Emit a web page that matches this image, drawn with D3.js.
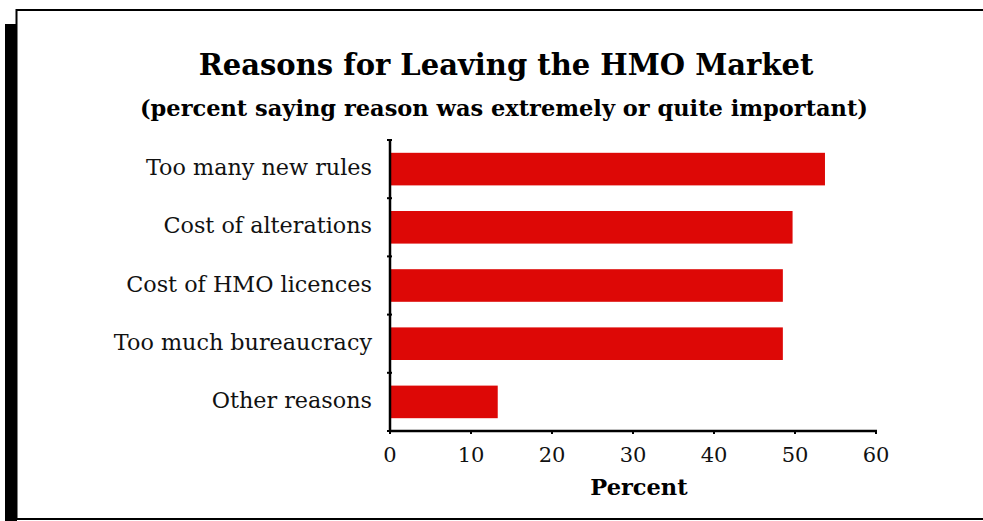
<!DOCTYPE html>
<html><head><meta charset="utf-8">
<script src="https://cdn.jsdelivr.net/npm/d3@7"></script>
<style>
body{margin:0;background:#fff;}
svg{display:block;}
</style></head>
<body>
<svg id="c" width="983" height="521"></svg>
<script>
const categories = ["Too many new rules","Cost of alterations","Cost of HMO licences","Too much bureaucracy","Other reasons"];
const values = [53.7, 49.7, 48.5, 48.5, 13.3];
const xTicks = [0,10,20,30,40,50,60];
const titleText = "Reasons for Leaving the HMO Market";
const subtitleText = "(percent saying reason was extremely or quite important)";
const xLabel = "Percent";

const svg = d3.select("#c");
const font = "'DejaVu Serif', serif";

// frame and shadow
svg.append("rect").attr("x",5).attr("y",24).attr("width",12).attr("height",500).attr("fill","#000");
svg.append("rect").attr("x",16.5).attr("y",10).attr("width",1000).attr("height",509).attr("fill","#fff").attr("stroke","#000").attr("stroke-width",2);

svg.append("text").attr("x",506).attr("y",75).attr("text-anchor","middle")
  .attr("font-family",font).attr("font-weight","bold").attr("font-size",29).text(titleText);
svg.append("text").attr("x",504).attr("y",116).attr("text-anchor","middle")
  .attr("font-family",font).attr("font-weight","bold").attr("font-size",22.5).text(subtitleText);

const x = d3.scaleLinear().domain([0,60]).range([390,876]);
const y = d3.scaleBand().domain(categories).range([140,431]).paddingInner(0.44).paddingOuter(0.22);

svg.append("g").selectAll("rect").data(categories).join("rect")
  .attr("x",x(0)).attr("y",d=>y(d)).attr("height",y.bandwidth())
  .attr("width",(d,i)=>x(values[i])-x(0)).attr("fill","#dd0806");

// y axis
const yb = d3.scaleBand().domain(categories).range([140,431]);
svg.append("line").attr("x1",390).attr("x2",390).attr("y1",140).attr("y2",431).attr("stroke","#000").attr("stroke-width",2.5);
const bounds = [140].concat(categories.map(c=>yb(c)+yb.bandwidth()));
svg.append("g").selectAll("line").data(bounds).join("line")
  .attr("x1",387).attr("x2",392).attr("y1",d=>d).attr("y2",d=>d).attr("stroke","#000").attr("stroke-width",2);
svg.append("g").selectAll("text").data(categories).join("text")
  .attr("x",372).attr("y",d=>yb(d)+yb.bandwidth()/2+6).attr("text-anchor","end")
  .attr("font-family",font).attr("font-size",22.3).attr("fill","#111").text(d=>d);

// x axis
svg.append("line").attr("x1",389).attr("x2",877).attr("y1",431).attr("y2",431).attr("stroke","#000").attr("stroke-width",2.5);
svg.append("g").selectAll("line").data(xTicks).join("line")
  .attr("x1",d=>x(d)).attr("x2",d=>x(d)).attr("y1",430).attr("y2",434).attr("stroke","#000").attr("stroke-width",2);
svg.append("g").selectAll("text").data(xTicks).join("text")
  .attr("x",d=>x(d)).attr("y",462).attr("text-anchor","middle")
  .attr("font-family",font).attr("font-size",21).attr("fill","#111").text(d=>d);
svg.append("text").attr("x",639).attr("y",495).attr("text-anchor","middle")
  .attr("font-family",font).attr("font-weight","bold").attr("font-size",22.5).text(xLabel);
</script>
</body></html>
